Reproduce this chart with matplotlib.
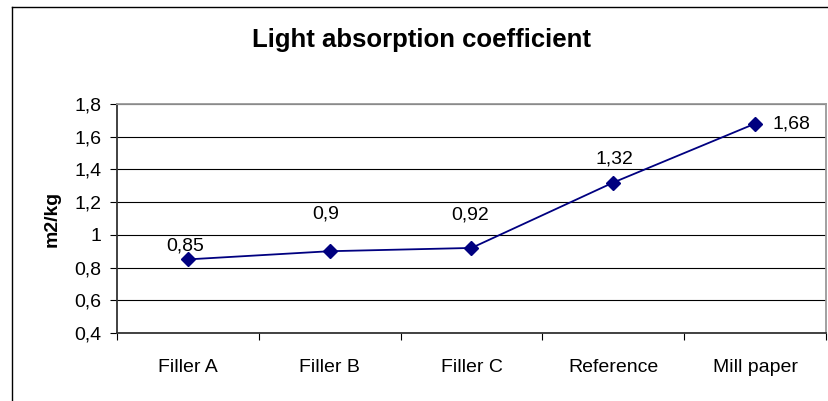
import matplotlib.pyplot as plt
from matplotlib.lines import Line2D
from matplotlib.ticker import FixedLocator

plt.rcParams['font.family'] = ['Liberation Sans', 'DejaVu Sans']

categories = ['Filler A', 'Filler B', 'Filler C', 'Reference', 'Mill paper']
values = [0.85, 0.9, 0.92, 1.32, 1.68]
value_labels = ['0,85', '0,9', '0,92', '1,32', '1,68']
y_ticks = [0.4, 0.6, 0.8, 1.0, 1.2, 1.4, 1.6, 1.8]
y_tick_labels = ['0,4', '0,6', '0,8', '1', '1,2', '1,4', '1,6', '1,8']

# label offsets in points (dx, dy) from each marker
label_offsets = [(-2, 10), (-3, 27), (-1, 24), (1, 17), (26, 0)]

navy = '#000080'

fig = plt.figure(figsize=(8.29, 4.01), dpi=100)
ax = fig.add_axes([117 / 829, 68 / 401, 709 / 829, 229 / 401])

x = list(range(len(categories)))
ax.plot(x, values, color=navy, lw=1.3, marker='D', ms=7.5, mfc=navy, mec=navy)

for xi, v, txt, (dx, dy) in zip(x, values, value_labels, label_offsets):
    ax.annotate(txt, (xi, v), xytext=(dx, dy), textcoords='offset points',
                ha='center', va='center', fontsize=14)

ax.set_xlim(-0.5, len(categories) - 0.5)
ax.set_ylim(0.4, 1.8)
ax.set_yticks(y_ticks)
ax.set_yticklabels(y_tick_labels, fontsize=14)
ax.set_xticks(x)
ax.set_xticklabels(categories, fontsize=14)
ax.xaxis.set_minor_locator(FixedLocator([i - 0.5 for i in range(len(categories) + 1)]))
ax.tick_params(axis='x', which='major', length=0, pad=19)
ax.tick_params(axis='x', which='minor', length=5, width=0.8, direction='out')
ax.tick_params(axis='y', length=5, width=0.8, direction='out', pad=6)

ax.yaxis.grid(True, color='black', lw=0.8)
ax.set_axisbelow(True)
for side in ['left', 'bottom']:
    ax.spines[side].set_color('#333333')
    ax.spines[side].set_linewidth(1.3)
for side in ['top', 'right']:
    ax.spines[side].set_color('#999999')
    ax.spines[side].set_linewidth(1.3)

ax.set_ylabel('m2/kg', fontsize=14, fontweight='bold', labelpad=10)
fig.text(422 / 829, 1 - 40 / 401, 'Light absorption coefficient',
         ha='center', va='center', fontsize=18.5, fontweight='bold')

# chart frame (top and left edges)
fig.add_artist(Line2D([12 / 829, 12 / 829], [0, 1 - 7 / 401], color='black', lw=1, transform=fig.transFigure))
fig.add_artist(Line2D([12 / 829, 1], [1 - 7 / 401, 1 - 7 / 401], color='black', lw=1, transform=fig.transFigure))

fig.savefig('out.png', dpi=100)
